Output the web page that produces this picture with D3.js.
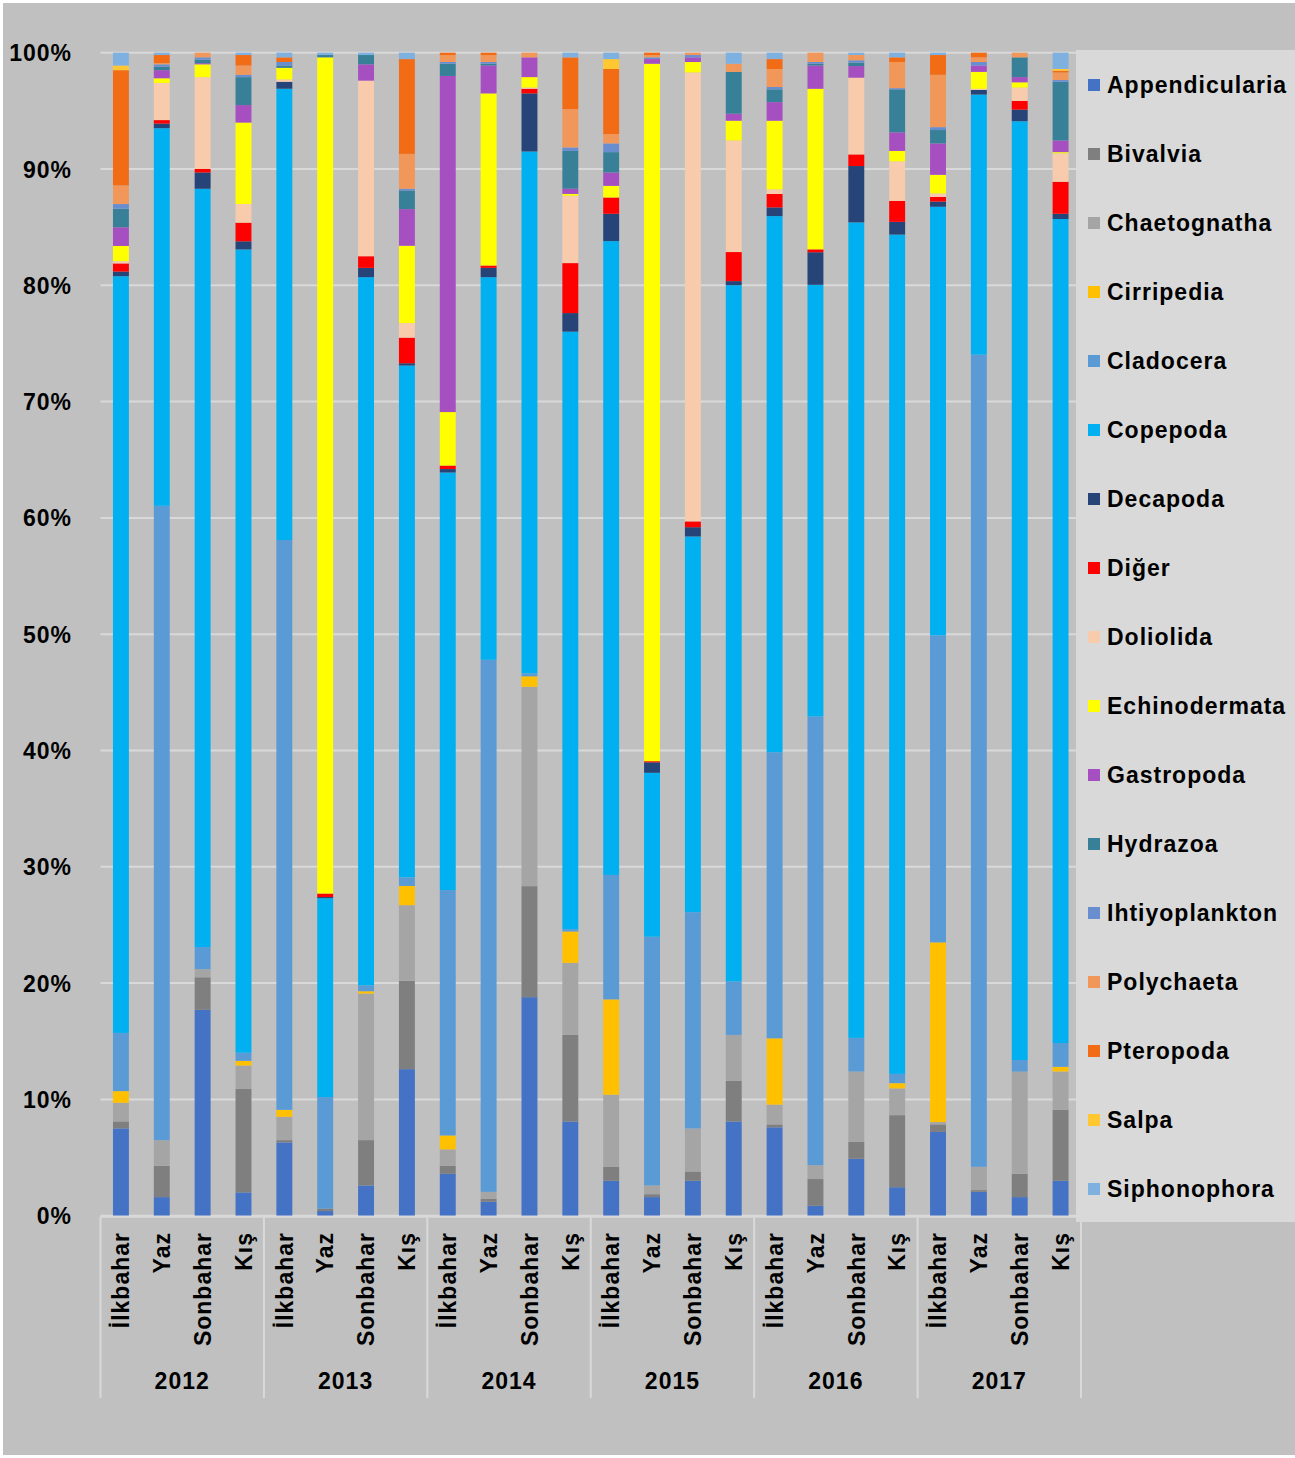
<!DOCTYPE html>
<html>
<head>
<meta charset="utf-8">
<script src="https://cdn.jsdelivr.net/npm/d3@7"></script>
<style>
  html, body { margin: 0; padding: 0; background: #ffffff; }
  svg { display: block; }
  text { font-family: "Liberation Sans", Arial, sans-serif; font-weight: bold; fill: #000; }
</style>
</head>
<body>
<svg id="chart" width="1295" height="1458"></svg>
<script>
// Seasons and years (category axis)
const years = ["2012", "2013", "2014", "2015", "2016", "2017"];
const seasons = ["İlkbahar", "Yaz", "Sonbahar", "Kış"];

// Taxon groups, bottom of the stack to top
const groups = ["Appendicularia", "Bivalvia", "Chaetognatha", "Cirripedia", "Cladocera",
  "Copepoda", "Decapoda", "Diğer", "Doliolida", "Echinodermata", "Gastropoda",
  "Hydrazoa", "Ihtiyoplankton", "Polychaeta", "Pteropoda", "Salpa", "Siphonophora"];

// Percent share of each group per season (2012 İlkbahar ... 2017 Kış)
const appendicularia = [7.5, 1.6, 17.7, 2.0, 6.3, 0.4, 2.6, 12.6, 3.6, 1.2, 18.8, 8.1, 3.0, 1.6, 3.0, 8.1, 7.6, 0.85, 4.9, 2.45, 7.2, 2.05, 1.6, 3.0];
const bivalvia = [0.6, 2.7, 2.8, 8.9, 0.2, 0.2, 3.9, 7.6, 0.7, 0.25, 9.55, 7.45, 1.2, 0.25, 0.8, 3.5, 0.25, 2.3, 1.45, 6.2, 0.65, 0.15, 2.0, 6.1];
const chaetognatha = [1.6, 2.2, 0.7, 2.0, 2.0, 0, 12.6, 6.5, 1.4, 0.6, 17.15, 6.2, 6.2, 0.75, 3.7, 3.95, 1.7, 1.2, 6.05, 2.3, 0.2, 2.0, 8.8, 3.3];
const cirripedia = [1.0, 0, 0, 0.4, 0.6, 0, 0.2, 1.65, 1.2, 0, 0.9, 2.7, 8.2, 0, 0, 0, 5.7, 0, 0, 0.45, 15.45, 0, 0, 0.4];
const cladocera = [5.0, 54.6, 1.9, 0.7, 49.0, 9.6, 0.5, 0.75, 21.1, 45.75, 0.25, 0.2, 10.7, 21.4, 18.6, 4.6, 24.6, 38.55, 2.9, 0.8, 26.4, 69.8, 1.0, 2.05];
const copepoda = [65.0, 32.5, 65.2, 69.0, 38.8, 17.1, 60.9, 44.0, 35.9, 32.9, 44.9, 51.4, 54.5, 14.1, 32.3, 59.9, 46.1, 37.1, 70.15, 72.2, 36.85, 22.35, 80.8, 70.85];
const decapoda = [0.4, 0.4, 1.4, 0.7, 0.6, 0.1, 0.8, 0.2, 0.3, 0.8, 5.0, 1.6, 2.35, 0.9, 0.8, 0.35, 0.75, 2.8, 4.85, 1.1, 0.45, 0.4, 1.0, 0.45];
const diger = [0.7, 0.3, 0.3, 1.6, 0, 0.3, 1.0, 2.2, 0.3, 0.2, 0.4, 4.3, 1.4, 0.1, 0.5, 2.5, 1.15, 0.25, 1.0, 1.8, 0.4, 0, 0.75, 2.75];
const doliolida = [0.2, 3.2, 7.9, 1.6, 0.2, 0, 15.1, 1.25, 0, 0, 0.1, 5.8, 0, 0, 38.6, 9.6, 0.4, 0, 6.6, 3.4, 0.3, 0.1, 1.15, 2.45];
const echinodermata = [1.3, 0.4, 1.1, 7.0, 1.0, 71.9, 0, 6.65, 4.6, 14.8, 0.9, 0.15, 1.0, 60.0, 0.9, 1.7, 5.9, 13.8, 0, 0.9, 1.6, 1.45, 0.45, 0.1];
const gastropoda = [1.6, 0.7, 0.1, 1.5, 0, 0, 1.4, 3.15, 28.9, 2.4, 1.7, 0.45, 1.15, 0.4, 0.4, 0.6, 1.6, 2.0, 1.0, 1.6, 2.7, 0.55, 0.45, 1.0];
const hydrazoa = [1.6, 0.3, 0.3, 2.4, 0.2, 0.2, 0.8, 1.6, 1.05, 0.15, 0, 3.25, 1.75, 0, 0, 3.6, 1.1, 0.15, 0.3, 3.7, 1.15, 0, 1.7, 5.05];
const ihtiyoplankton = [0.4, 0.2, 0.2, 0.2, 0.3, 0, 0, 0.15, 0.15, 0.15, 0, 0.3, 0.75, 0.15, 0.2, 0, 0.2, 0.15, 0.2, 0.1, 0.25, 0.3, 0, 0.15];
const polychaeta = [1.6, 0.1, 0.4, 0.8, 0, 0, 0, 3.0, 0.6, 0.6, 0.4, 3.3, 0.8, 0.2, 0.2, 0.7, 1.55, 0.8, 0.45, 2.25, 4.5, 0.4, 0.4, 0.65];
const pteropoda = [9.9, 0.7, 0, 0.9, 0.4, 0, 0, 8.15, 0.2, 0.2, 0, 4.45, 5.6, 0.2, 0, 0, 0.85, 0, 0, 0.4, 1.7, 0.4, 0, 0.15];
const salpa = [0.4, 0, 0, 0, 0, 0, 0, 0, 0, 0, 0, 0, 0.85, 0, 0, 0, 0, 0, 0, 0, 0, 0, 0, 0.15];
const siphonophora = [1.1, 0.2, 0, 0.2, 0.4, 0.2, 0.2, 0.55, 0, 0, 0, 0.4, 0.55, 0, 0, 0.95, 0.55, 0, 0.2, 0.4, 0.2, 0, 0, 1.4];

const yTicks = [0, 0.1, 0.2, 0.3, 0.4, 0.5, 0.6, 0.7, 0.8, 0.9, 1.0];

const seriesValues = [appendicularia, bivalvia, chaetognatha, cirripedia, cladocera, copepoda,
  decapoda, diger, doliolida, echinodermata, gastropoda, hydrazoa, ihtiyoplankton,
  polychaeta, pteropoda, salpa, siphonophora];

const colors = ["#4472C4", "#7F7F7F", "#A5A5A5", "#FFC000", "#5B9BD5", "#00B0F0",
  "#264478", "#FF0000", "#F8CBAD", "#FFFF00", "#A64FC0", "#378098", "#698ED0",
  "#F1975A", "#F26B15", "#FFC832", "#7FB1E0"];

// Build one row per bar
const rows = [];
years.forEach((yr, yi) => {
  seasons.forEach((s, si) => {
    const idx = yi * 4 + si;
    const row = { key: yr + "|" + s, year: yr, season: s };
    groups.forEach((g, gi) => { row[g] = seriesValues[gi][idx]; });
    rows.push(row);
  });
});

const svg = d3.select("#chart");

// Frame and backgrounds
svg.append("rect").attr("x", 0).attr("y", 0).attr("width", 1295).attr("height", 1458).attr("fill", "#ffffff");
svg.append("rect").attr("x", 3).attr("y", 3).attr("width", 1292).attr("height", 1452).attr("fill", "#c0c0c0");

const plot = { left: 100.5, right: 1081, top: 52.7, bottom: 1215.7 };

const x = d3.scaleBand()
  .domain(rows.map(d => d.key))
  .range([plot.left, plot.right])
  .paddingInner(0.61)
  .paddingOuter(0.305);

const y = d3.scaleLinear().domain([0, 1]).range([plot.bottom, plot.top]);

// Horizontal gridlines
svg.append("g")
  .selectAll("line")
  .data(yTicks)
  .join("line")
  .attr("x1", plot.left).attr("x2", plot.right)
  .attr("y1", d => y(d)).attr("y2", d => y(d))
  .attr("stroke", "#d9d9d9").attr("stroke-width", 2);

// Y axis labels
const yAxis = d3.axisLeft(y).tickValues(yTicks).tickFormat(d3.format(".0%")).tickSize(0).tickPadding(0);
const yg = svg.append("g").attr("transform", `translate(72,0)`).call(yAxis);
yg.select(".domain").remove();
yg.selectAll("text")
  .attr("font-size", 23)
  .attr("letter-spacing", "1px")
  .attr("font-family", "Liberation Sans, Arial, sans-serif")
  .attr("font-weight", "bold")
  .attr("fill", "#000")
  .attr("dy", "0.35em");

// Stacked bars
const stack = d3.stack().keys(groups).offset(d3.stackOffsetExpand).order(d3.stackOrderNone);
const stacked = stack(rows);

svg.append("g")
  .selectAll("g")
  .data(stacked)
  .join("g")
  .attr("fill", (d, i) => colors[i])
  .selectAll("rect")
  .data(d => d)
  .join("rect")
  .attr("x", d => x(d.data.key))
  .attr("width", x.bandwidth())
  .attr("y", d => y(d[1]))
  .attr("height", d => Math.max(0, y(d[0]) - y(d[1])));

// Category axis: season labels, year labels, separators
const axisColor = "#d9d9d9";
svg.append("line")
  .attr("x1", plot.left).attr("x2", plot.right)
  .attr("y1", plot.bottom + 1).attr("y2", plot.bottom + 1)
  .attr("stroke", axisColor).attr("stroke-width", 2);

const groupWidth = (plot.right - plot.left) / years.length;
const sepXs = d3.range(years.length + 1).map(i => plot.left + i * groupWidth);
svg.append("g")
  .selectAll("line")
  .data(sepXs)
  .join("line")
  .attr("x1", d => d).attr("x2", d => d)
  .attr("y1", plot.bottom + 1).attr("y2", 1398)
  .attr("stroke", axisColor).attr("stroke-width", 2);

svg.append("g")
  .selectAll("text")
  .data(rows)
  .join("text")
  .attr("transform", d => `translate(${x(d.key) + x.bandwidth() / 2},1232) rotate(-90)`)
  .attr("text-anchor", "end")
  .attr("dy", "0.36em")
  .attr("font-size", 23)
  .attr("letter-spacing", "1px")
  .text(d => d.season);

svg.append("g")
  .selectAll("text")
  .data(years)
  .join("text")
  .attr("x", (d, i) => plot.left + (i + 0.5) * groupWidth)
  .attr("y", 1381)
  .attr("dy", "0.35em")
  .attr("text-anchor", "middle")
  .attr("font-size", 23)
  .attr("letter-spacing", "1px")
  .text(d => d);

// Legend
const legend = svg.append("g");
legend.append("rect")
  .attr("x", 1076).attr("y", 50).attr("width", 219).attr("height", 1172)
  .attr("fill", "#d9d9d9");

const legendY = d3.scalePoint().domain(groups).range([85, 1189]);
const items = legend.selectAll("g.item")
  .data(groups)
  .join("g")
  .attr("class", "item")
  .attr("transform", d => `translate(0,${legendY(d)})`);
items.append("rect")
  .attr("x", 1088).attr("y", -6).attr("width", 12).attr("height", 12)
  .attr("fill", (d, i) => colors[i]);
items.append("text")
  .attr("x", 1107)
  .attr("dy", "0.35em")
  .attr("font-size", 23)
  .attr("letter-spacing", "1px")
  .text(d => d);
</script>
</body>
</html>
